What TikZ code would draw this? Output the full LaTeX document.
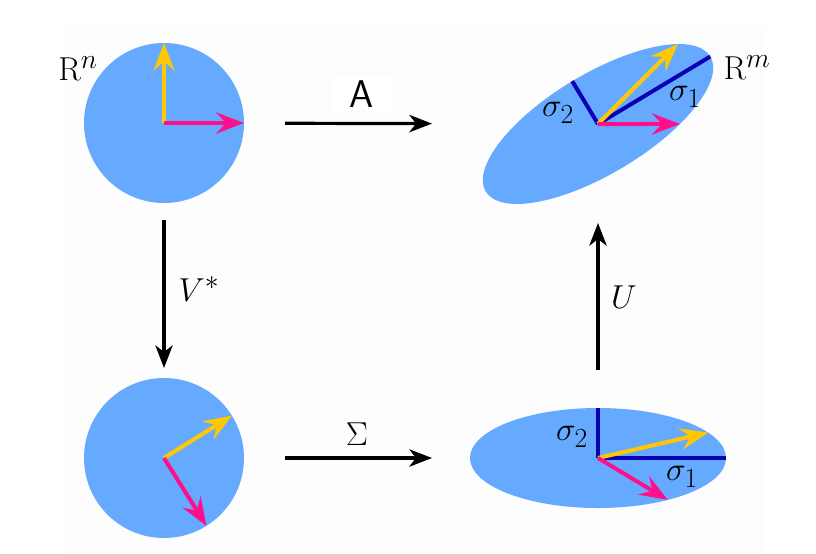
\documentclass[tikz,border=0pt]{standalone}
\usetikzlibrary{arrows.meta,shapes.geometric}
\definecolor{blobblue}{HTML}{66AAFF}
\definecolor{vecyellow}{HTML}{FFC800}
\definecolor{vecpink}{HTML}{FF0F8C}
\definecolor{axisblue}{HTML}{0A00B4}
\definecolor{bgpaper}{HTML}{FDFDFD}
\begin{document}
\begin{tikzpicture}[x=0.75pt,y=-0.75pt,
  blob/.style={fill=blobblue,draw=none,inner sep=0pt,outer sep=0pt},
  vec/.style={line width=3pt,-{Stealth[length=21pt,width=16pt,inset=7.5pt]}},
  yvec/.style={vec,draw=vecyellow},
  pvec/.style={vec,draw=vecpink},
  axisline/.style={line width=3pt,draw=axisblue},
  conn/.style={line width=2.4pt,draw=black,-{Stealth[length=17pt,width=13pt,inset=5pt]}},
  lbl/.style={inner sep=0pt,font=\fontsize{24.88}{29}\selectfont}
]
\useasboundingbox (0,0) rectangle (816,553);
\fill[bgpaper] (65,25) rectangle (763,553);

% shapes
\node[blob,circle,minimum size=120pt] (c1) at (164,123) {};
\node[blob,circle,minimum size=120pt] (c2) at (164,458) {};
\node[blob,ellipse,minimum width=196.5pt,minimum height=75pt,rotate=31] (e1) at (598,124) {};
\node[blob,ellipse,minimum width=192pt,minimum height=75pt] (e2) at (598,458) {};

% semi-axes
\draw[axisline] (e1.center) -- (e1.east);
\draw[axisline] (e1.center) -- (e1.north);
\draw[axisline] (e2.center) -- (e2.east);
\draw[axisline] (e2.center) -- (e2.north);

% vectors
\draw[yvec] (c1.center) -- (c1.north);
\draw[pvec] (c1.center) -- (c1.east);
\draw[yvec] (c2.center) -- (c2.32);
\draw[pvec] (c2.center) -- (c2.-58);
\draw[yvec] (e1.center) -- (e1.14);
\draw[pvec] (e1.center) -- (e1.-31);
\draw[yvec] (e2.center) -- (e2.13);
\draw[pvec] (e2.center) -- (e2.-31);

% connectors
\draw[conn,shorten <=90.75pt,shorten >=124.5pt] (c1.center) -- (e1.center);
\draw[conn,shorten <=90.75pt,shorten >=124.5pt] (c2.center) -- (e2.center);
\draw[conn,shorten <=72.75pt,shorten >=67.5pt] (c1.center) -- (c2.center);
\draw[conn,shorten <=66pt,shorten >=74.25pt] (e2.center) -- (e1.center);

% labels
\node[fill=white,minimum width=45.75pt,minimum height=26pt,inner sep=0pt,
      font=\sffamily\fontsize{29}{34}\selectfont] (lA) at (362,94) {A};
\node[lbl] (lS) at (357,434) {$\Sigma$};
\node[lbl] (lV) at (199,289) {$V^*$};
\node[lbl] (lU) at (624,297) {$U$};
\node[lbl] (lRn) at (78,69) {$\mathrm{R}^n$};
\node[lbl] (lRm) at (747,68) {$\mathrm{R}^m$};
\node[lbl] (s1a) at (685,97) {$\sigma_1$};
\node[lbl] (s2a) at (558,113) {$\sigma_2$};
\node[lbl] (s1b) at (682,477) {$\sigma_1$};
\node[lbl] (s2b) at (572,437) {$\sigma_2$};
\end{tikzpicture}
\end{document}
